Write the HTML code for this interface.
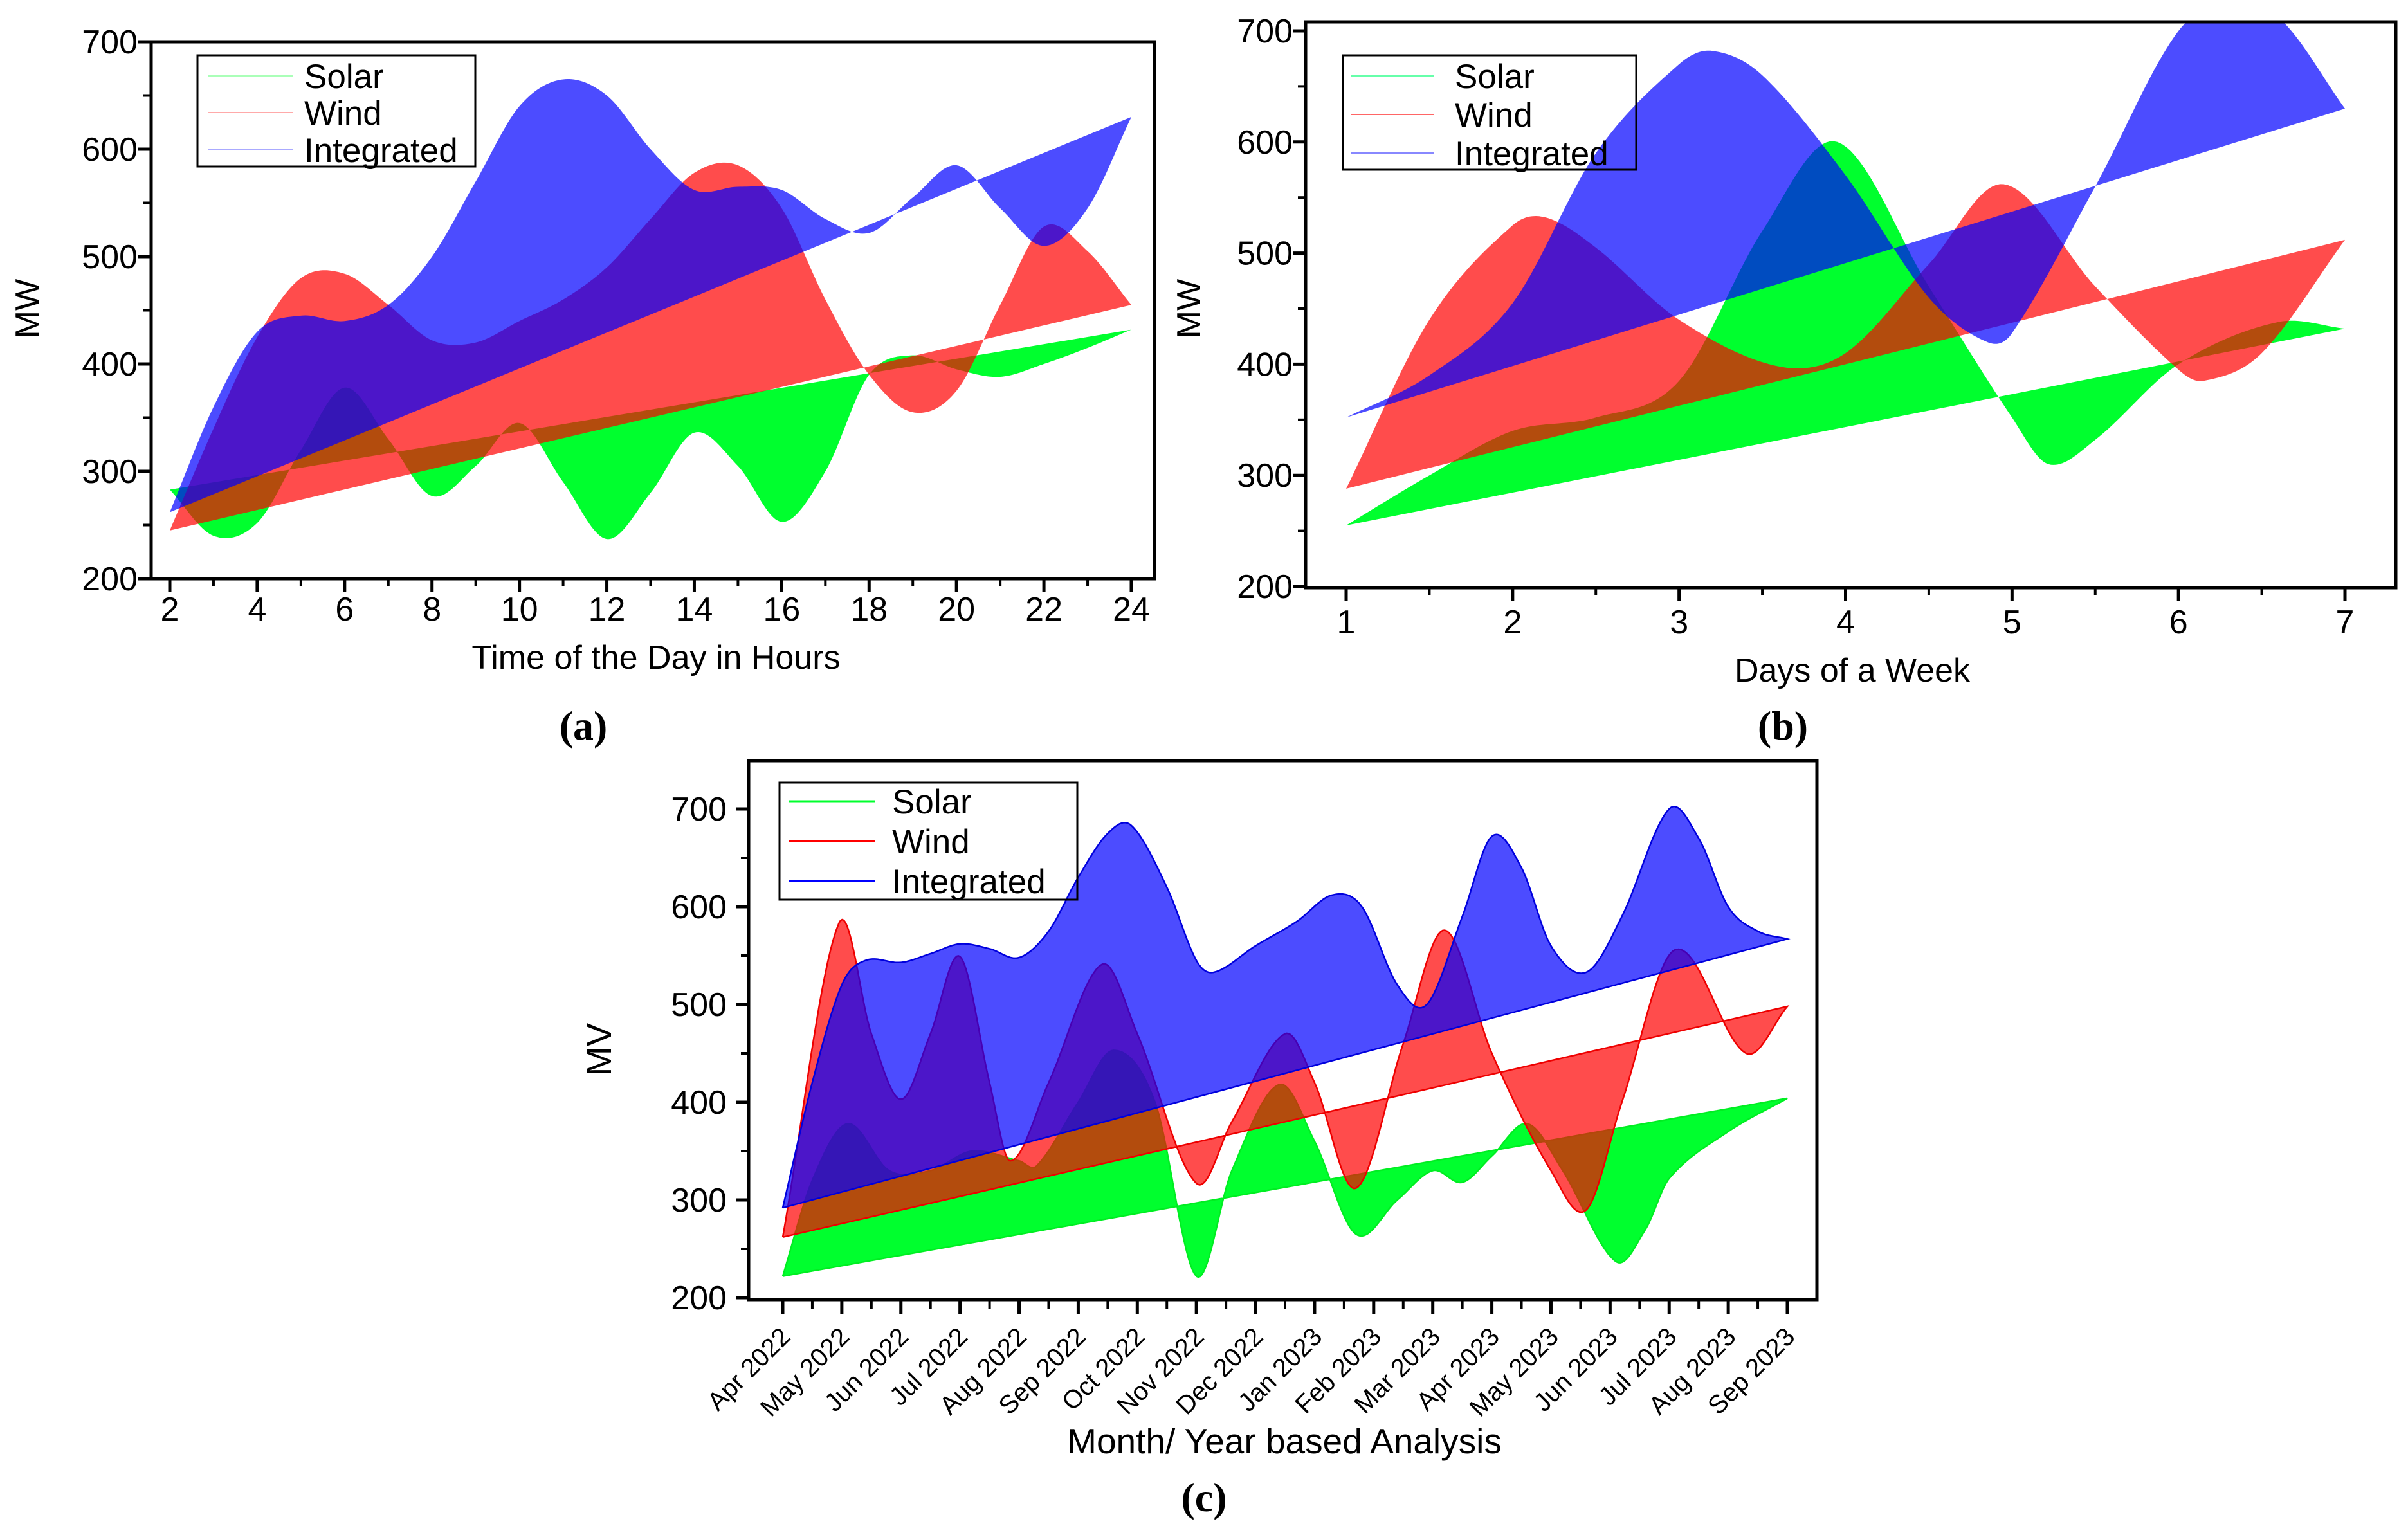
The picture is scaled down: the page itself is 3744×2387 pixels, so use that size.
<!DOCTYPE html>
<html><head><meta charset="utf-8"><style>
html,body{margin:0;padding:0;background:#fff;}
svg{display:block;font-family:"Liberation Sans",Arial,sans-serif;}
</style></head><body>
<svg id="fig" width="3744" height="2387" viewBox="0 0 3744 2387"></svg>
<script>
// ---------- Chart (a) data: Time of the day ----------
const aHours = [2,3,4,5,6,7,8,9,10,11,12,13,14,15,16,17,18,19,20,21,22,23,24];
const aSolar = [283,240,252,320,378,330,277,305,345,290,237,280,336,305,253,300,390,408,395,388,400,415,432];
const aWind  = [245,340,425,480,484,455,422,420,440,460,490,535,578,585,545,460,390,355,375,455,528,505,455];
const aInteg = [262,360,430,445,440,455,500,570,640,665,650,600,562,565,562,535,522,555,585,545,510,545,630];
const aXTicks = [2,4,6,8,10,12,14,16,18,20,22,24];
const aYTicks = [200,300,400,500,600,700];

// ---------- Chart (b) data: Days of a week ----------
const bSolarX = [1,1.5,2,2.5,3,3.5,3.95,4.5,5,5.22,5.5,6,6.6,7];
const bSolarY = [255,300,340,352,385,520,600,470,352,310,332,400,438,432];
const bWindX  = [1,1.5,2,2.2,2.5,3,3.6,4,4.5,4.95,5.5,6,6.15,6.5,7];
const bWindY  = [288,440,525,532,505,440,398,410,490,562,470,395,385,410,512];
const bIntegX = [1,1.5,2,2.5,3,3.2,3.5,4,4.5,4.85,5,5.5,6,6.3,6.6,7];
const bIntegY = [352,390,455,590,670,682,660,570,460,420,428,560,700,718,712,630];
const bXTicks = [1,2,3,4,5,6,7];
const bYTicks = [200,300,400,500,600,700];

// ---------- Chart (c) data: Month / year ----------
const cMonths = ["Apr 2022","May 2022","Jun 2022","Jul 2022","Aug 2022","Sep 2022","Oct 2022","Nov 2022","Dec 2022","Jan 2023","Feb 2023","Mar 2023","Apr 2023","May 2023","Jun 2023","Jul 2023","Aug 2023","Sep 2023"];
const cSolarX = [0,0.5,1.1,1.8,2.5,3.2,4,4.3,5,5.6,6.3,7,7.6,8.4,9,9.7,10.4,11,11.5,12,12.6,13.2,14.1,14.6,15,16,17];
const cSolarY = [222,320,378,330,330,350,340,335,400,453,400,222,330,418,360,265,300,330,318,345,378,330,237,270,322,370,404];
const cWindX  = [0,0.95,1.5,2,2.5,3,3.5,3.85,4.5,5.4,6,7,7.6,8.5,9,9.7,10.5,11.2,12,13,13.6,14.2,15.1,16.3,17];
const cWindY  = [262,583,470,403,470,549,420,340,420,541,470,317,380,470,420,312,460,576,450,330,290,400,556,450,498];
const cIntegX = [0,0.5,1,1.4,2,2.5,3,3.5,4,4.5,5,5.5,5.9,6.5,7,7.3,8,8.7,9.3,9.8,10.4,10.9,11.5,12,12.5,13,13.6,14.2,15,15.5,16,16.5,17];
const cIntegY = [292,420,520,545,543,552,562,557,548,575,630,675,683,620,545,533,560,585,612,600,520,500,590,672,640,560,533,590,700,670,600,575,567];
const cYTicks = [200,300,400,500,600,700];

const NS = "http://www.w3.org/2000/svg";
const svg = document.getElementById("fig");
function mk(tag, attrs, parent){
  const e = document.createElementNS(NS, tag);
  for (const k in attrs) e.setAttribute(k, attrs[k]);
  (parent||svg).appendChild(e);
  return e;
}
function lin(d0,d1,r0,r1){ return v => r0 + (v-d0)*(r1-r0)/(d1-d0); }

function splinePath(xs, ys, sx, sy, clipTop){
  const n = xs.length;
  const pts = xs.map((x,i)=>[sx(x), sy(ys[i])]);
  const t = pts.map((p,i)=>{
    if (i===0) return (pts[1][1]-pts[0][1])/(pts[1][0]-pts[0][0]);
    if (i===n-1) return (pts[n-1][1]-pts[n-2][1])/(pts[n-1][0]-pts[n-2][0]);
    return (pts[i+1][1]-pts[i-1][1])/(pts[i+1][0]-pts[i-1][0]);
  });
  const out = [];
  for (let i=0;i<n-1;i++){
    const [x0,y0]=pts[i],[x1,y1]=pts[i+1],h=x1-x0;
    for (let s=0;s<20;s++){
      const u=s/20,u2=u*u,u3=u2*u;
      const y=(2*u3-3*u2+1)*y0+(u3-2*u2+u)*h*t[i]+(-2*u3+3*u2)*y1+(u3-u2)*h*t[i+1];
      out.push([x0+h*u, Math.max(clipTop,y)]);
    }
  }
  out.push(pts[n-1]);
  return out;
}

function areaSeries(g, name, xs, ys, sx, sy, fill, opacity, clipTop, stroke){
  const pts = splinePath(xs, ys, sx, sy, clipTop);
  const d = "M" + pts.map(p=>p[0].toFixed(1)+","+p[1].toFixed(1)).join("L") + "Z";
  const p = mk("path",{d:d, fill:fill, "fill-opacity":opacity, stroke:"none"}, g);
  
  
  if (stroke){
    const d2 = "M" + pts.map(p=>p[0].toFixed(1)+","+p[1].toFixed(1)).join("L") + "L" + pts[0][0].toFixed(1)+","+pts[0][1].toFixed(1);
    const s = mk("path",{d:d2, fill:"none", stroke:stroke, "stroke-width":2.5}, g);
    
    
  }
}

function frame(g, L,R,T,B){
  const r = mk("rect",{x:L,y:T,width:R-L,height:B-T,fill:"none",stroke:"#000","stroke-width":5}, g);
  
  
}
function yAxis(g, L, sy, ticks, labelX){
  for (let i=0;i<ticks.length;i++){
    const v=ticks[i], y=sy(v);
    mk("line",{x1:L-20,y1:y,x2:L,y2:y,stroke:"#000","stroke-width":5}, g);
    if (i<ticks.length-1){ const ym=sy(v+50); mk("line",{x1:L-12,y1:ym,x2:L,y2:ym,stroke:"#000","stroke-width":4}, g); }
    const t = mk("text",{x:labelX,y:y+18,"text-anchor":"end","font-size":52}, g);
    t.textContent = v;
    
    
  }
}
function text(x,y,str,size,name,extra){
  const t = mk("text", Object.assign({x:x,y:y,"font-size":size,"text-anchor":"middle"}, extra||{}));
  t.textContent = str;
  
  
  return t;
}
function legend(x0,y0,x1,y1,rows,lineX0,lineX1,textX,entries,colors,lw){
  const g = mk("g",{});
  
  
  mk("rect",{x:x0,y:y0,width:x1-x0,height:y1-y0,fill:"none",stroke:"#000","stroke-width":3}, g);
  entries.forEach((e,i)=>{
    const gi = mk("g",{}, g);
    
    
    mk("line",{x1:lineX0,y1:rows[i],x2:lineX1,y2:rows[i],stroke:colors[i],"stroke-width":lw}, gi);
    const t = mk("text",{x:textX,y:rows[i]+19,"font-size":53}, gi);
    t.textContent = e;
  });
}

const GREEN="#00ff2e", RED="#ff0000", BLUE="#0000ff";

// ===== Chart (a) =====
(function(){
  const g = mk("g",{});  
  const L=235,R=1795,T=65,B=900;
  const sx=lin(2,24,264,1759), sy=lin(200,700,900,65);
  areaSeries(g,'solar',aHours,aSolar,sx,sy,GREEN,1,T);
  areaSeries(g,'wind',aHours,aWind,sx,sy,RED,0.7,T);
  areaSeries(g,'integrated',aHours,aInteg,sx,sy,BLUE,0.7,T);
  frame(g,L,R,T,B);
  yAxis(g,L,sy,aYTicks,214);
  aXTicks.forEach((v,i)=>{
    const x=sx(v);
    mk("line",{x1:x,y1:B,x2:x,y2:B+20,stroke:"#000","stroke-width":5},g);
    if(i<aXTicks.length-1){const xm=sx(v+1);mk("line",{x1:xm,y1:B,x2:xm,y2:B+12,stroke:"#000","stroke-width":4},g);}
    const t=mk("text",{x:x,y:965,"text-anchor":"middle","font-size":52},g); t.textContent=v;
     
  });
  text(1020,1040,"Time of the Day in Hours",52,"x-axis-title-a");
  text(0,0,"MW",52,"y-axis-title-a",{transform:"translate(60,480) rotate(-90)"});
  text(907,1150,"(a)",64,"panel-label-a",{"font-family":"Liberation Serif, serif","font-weight":"bold"});
  legend(307,86,739,259,[118,175,233],324,456,473,["Solar","Wind","Integrated"],["#aaffb8","#ffaaaa","#aaaaff"],2);
})();

// ===== Chart (b) =====
(function(){
  const g = mk("g",{});  
  const L=2030,R=3725,T=34,B=914;
  const sx=lin(1,7,2093,3646), sy=lin(200,700,912,48);
  areaSeries(g,'solar',bSolarX,bSolarY,sx,sy,GREEN,1,T);
  areaSeries(g,'wind',bWindX,bWindY,sx,sy,RED,0.7,T);
  areaSeries(g,'integrated',bIntegX,bIntegY,sx,sy,BLUE,0.7,T);
  frame(g,L,R,T,B);
  yAxis(g,L,sy,bYTicks,2010);
  bXTicks.forEach((v,i)=>{
    const x=sx(v);
    mk("line",{x1:x,y1:B,x2:x,y2:B+20,stroke:"#000","stroke-width":5},g);
    if(i<bXTicks.length-1){const xm=sx(v+0.5);mk("line",{x1:xm,y1:B,x2:xm,y2:B+12,stroke:"#000","stroke-width":4},g);}
    const t=mk("text",{x:x,y:985,"text-anchor":"middle","font-size":52},g); t.textContent=v;
     
  });
  text(2880,1060,"Days of a Week",52,"x-axis-title-b");
  text(0,0,"MW",52,"y-axis-title-b",{transform:"translate(1866,480) rotate(-90)"});
  text(2772,1150,"(b)",64,"panel-label-b",{"font-family":"Liberation Serif, serif","font-weight":"bold"});
  legend(2088,86,2544,264,[118,178,238],2100,2230,2262,["Solar","Wind","Integrated"],["#66ffaa","#ff6666","#8888ff"],2);
})();

// ===== Chart (c) =====
(function(){
  const g = mk("g",{});  
  const L=1164,R=2825,T=1183,B=2021;
  const sx=lin(0,17,1217,2779), sy=lin(200,700,2018,1258);
  areaSeries(g,'solar',cSolarX,cSolarY,sx,sy,GREEN,1,T,"#00ee22");
  areaSeries(g,'wind',cWindX,cWindY,sx,sy,RED,0.7,T,"#ee0000");
  areaSeries(g,'integrated',cIntegX,cIntegY,sx,sy,BLUE,0.7,T,"#0000dd");
  frame(g,L,R,T,B);
  yAxis(g,L,sy,cYTicks,1130);
  cMonths.forEach((m,i)=>{
    const x=sx(i);
    mk("line",{x1:x,y1:B,x2:x,y2:B+22,stroke:"#000","stroke-width":5},g);
    if(i<cMonths.length-1){const xm=sx(i+0.5);mk("line",{x1:xm,y1:B,x2:xm,y2:B+14,stroke:"#000","stroke-width":4},g);}
    const t=mk("text",{x:x+14,y:B+60,"text-anchor":"end","font-size":40,transform:"rotate(-45 "+(x+14)+" "+(B+60)+")"},g);
    t.textContent=m;
     
  });
  text(1997,2260,"Month/ Year based Analysis",55,"x-axis-title-c");
  text(0,0,"MV",55,"y-axis-title-c",{transform:"translate(950,1632) rotate(-90)"});
  text(1872,2350,"(c)",64,"panel-label-c",{"font-family":"Liberation Serif, serif","font-weight":"bold"});
  legend(1212,1217,1675,1399,[1246,1308,1370],1227,1360,1387,["Solar","Wind","Integrated"],[GREEN,RED,BLUE],3);
})();
</script>
</body></html>
